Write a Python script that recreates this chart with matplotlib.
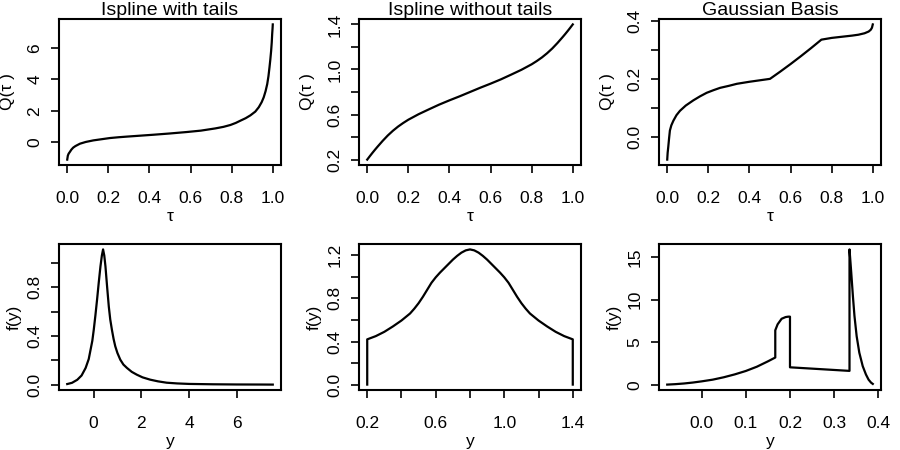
import matplotlib
matplotlib.use("Agg")
import matplotlib.pyplot as plt

plt.rcParams['font.family'] = ['Liberation Sans', 'DejaVu Sans']
plt.rcParams['font.size'] = 12.5

# quantile functions Q(tau)
tau_tails = [0.0, 0.003, 0.007, 0.013, 0.02, 0.029, 0.04, 0.062, 0.09, 0.127,
             0.17, 0.208, 0.25, 0.29, 0.355, 0.42, 0.5, 0.58, 0.65, 0.72,
             0.76, 0.794, 0.82, 0.842, 0.868, 0.891, 0.915, 0.932, 0.946, 0.956,
             0.965, 0.973, 0.979, 0.984, 0.988, 0.992, 0.995, 0.997, 0.999, 1.0]
q_tails = [-1.1, -0.85, -0.72, -0.61, -0.47, -0.34, -0.24, -0.09, 0.02, 0.12,
           0.2, 0.27, 0.32, 0.36, 0.42, 0.48, 0.56, 0.65, 0.74, 0.88,
           0.98, 1.1, 1.23, 1.37, 1.53, 1.71, 1.95, 2.23, 2.55, 2.86,
           3.25, 3.7, 4.2, 4.76, 5.25, 5.81, 6.35, 6.86, 7.25, 7.49]

tau_notails = [0.0, 0.0125, 0.025, 0.0375, 0.05, 0.075, 0.1, 0.125, 0.15, 0.175,
               0.2, 0.25, 0.3, 0.35, 0.4, 0.45, 0.5, 0.55, 0.6, 0.65,
               0.7, 0.75, 0.8, 0.825, 0.85, 0.875, 0.9, 0.925, 0.95, 0.9625,
               0.975, 0.9875, 1.0]
q_notails = [0.2, 0.23, 0.259, 0.287, 0.314, 0.366, 0.414, 0.456, 0.493, 0.525,
             0.554, 0.603, 0.646, 0.688, 0.726, 0.762, 0.8, 0.838, 0.874, 0.912,
             0.954, 0.997, 1.046, 1.075, 1.107, 1.144, 1.186, 1.234, 1.286, 1.313,
             1.341, 1.37, 1.4]

tau_gauss = [0.0, 0.002, 0.005, 0.009, 0.013, 0.02, 0.03, 0.045, 0.062, 0.09,
             0.127, 0.16, 0.192, 0.225, 0.257, 0.3, 0.339, 0.4, 0.45, 0.5,
             0.55, 0.6, 0.65, 0.7, 0.75, 0.8, 0.85, 0.9, 0.93, 0.96,
             0.98, 0.99, 0.996, 1.0]
q_gauss = [-0.078, -0.055, -0.035, -0.005, 0.022, 0.04, 0.056, 0.075, 0.09, 0.108,
           0.126, 0.14, 0.152, 0.161, 0.169, 0.176, 0.183, 0.19, 0.195, 0.2,
           0.225, 0.251, 0.278, 0.306, 0.335, 0.341, 0.345, 0.349, 0.352, 0.357,
           0.363, 0.369, 0.376, 0.3875]

# densities f(y)
y_tails = [-1.1, -0.9, -0.68, -0.5, -0.33, -0.2, -0.12, -0.05, 0.01, 0.08,
           0.15, 0.22, 0.29, 0.35, 0.4, 0.45, 0.5, 0.57, 0.64, 0.7,
           0.77, 0.84, 0.91, 1.0, 1.12, 1.25, 1.4, 1.6, 1.81, 2.05,
           2.37, 2.7, 3.06, 3.5, 4.0, 5.0, 6.0, 7.0, 7.5]
f_tails = [0.005, 0.015, 0.04, 0.075, 0.137, 0.21, 0.29, 0.36, 0.45, 0.57,
           0.7, 0.84, 0.97, 1.06, 1.11, 1.06, 0.97, 0.8, 0.64, 0.535,
           0.45, 0.375, 0.315, 0.26, 0.205, 0.165, 0.137, 0.105, 0.082, 0.06,
           0.041, 0.027, 0.016, 0.01, 0.006, 0.003, 0.0015, 0.001, 0.0005]

y_notails = [0.2, 0.2, 0.25, 0.3, 0.35, 0.4, 0.45, 0.475, 0.5, 0.525,
             0.55, 0.575, 0.6, 0.625, 0.65, 0.675, 0.7, 0.725, 0.75, 0.775,
             0.8, 0.825, 0.85, 0.875, 0.9, 0.925, 0.95, 0.975, 1.0, 1.025,
             1.05, 1.075, 1.1, 1.125, 1.15, 1.2, 1.25, 1.3, 1.35, 1.4, 1.4]
f_notails = [0.0, 0.42, 0.45, 0.49, 0.54, 0.595, 0.66, 0.705, 0.756, 0.815,
             0.88, 0.945, 0.996, 1.04, 1.08, 1.12, 1.16, 1.195, 1.225, 1.246,
             1.255, 1.246, 1.225, 1.195, 1.16, 1.12, 1.08, 1.04, 0.996, 0.945,
             0.88, 0.815, 0.756, 0.705, 0.66, 0.595, 0.54, 0.49, 0.45, 0.42, 0.0]

y_gauss = [-0.078, -0.06, -0.04, -0.02, 0.0, 0.025, 0.05, 0.075, 0.1, 0.125,
           0.15, 0.1667, 0.1667, 0.172, 0.181, 0.19, 0.196, 0.2, 0.2, 0.3348,
           0.3348, 0.3387, 0.3425, 0.346, 0.351, 0.357, 0.3647, 0.372, 0.378, 0.3836, 0.3875]
f_gauss = [0.02, 0.07, 0.15, 0.26, 0.4, 0.6, 0.88, 1.22, 1.62, 2.12,
           2.75, 3.2, 6.4, 7.1, 7.75, 7.95, 8.0, 8.0, 2.05, 1.63,
           15.9, 13.2, 10.4, 8.1, 5.7, 3.77, 2.19, 1.21, 0.6, 0.25, 0.1]

titles = ["Ispline with tails", "Ispline without tails", "Gaussian Basis"]

tau_ticks = [0.0, 0.2, 0.4, 0.6, 0.8, 1.0]
tau_labels = ["0.0", "0.2", "0.4", "0.6", "0.8", "1.0"]


def rlim(vals):
    # R style range: data range padded by 4% on each side
    lo, hi = min(vals), max(vals)
    d = 0.04 * (hi - lo)
    return lo - d, hi + d


def panel(ax, x, y, xticks, xlabels, yticks, ylabels, xlabel, ylabel, ylab_x, title=None):
    ax.plot(x, y, color="black", lw=1.6)
    ax.set_xlim(*rlim(x))
    ax.set_ylim(*rlim(y))
    ax.set_xticks(xticks)
    ax.set_xticklabels(xlabels)
    ax.set_yticks(yticks)
    ax.set_yticklabels(ylabels, rotation=90, va="center")
    ax.tick_params(axis="x", direction="out", length=6, width=1.2, pad=12.5)
    ax.tick_params(axis="y", direction="out", length=6, width=1.2, pad=6)
    for s in ax.spines.values():
        s.set_linewidth(1.5)
    ax.set_xlabel(xlabel)
    ax.set_ylabel(ylabel)
    ax.xaxis.set_label_coords(0.5, -0.30)
    ax.yaxis.set_label_coords(ylab_x, 0.5)
    if title:
        ax.set_title(title, pad=0.5, fontsize=14)


fig = plt.figure(figsize=(9, 4.5), dpi=100)
W, H = 900, 450
lefts = [59, 359, 659]
axw, axh = 222, 146
top_ax = [fig.add_axes([l / W, 1 - 165 / H, axw / W, axh / H]) for l in lefts]
bot_ax = [fig.add_axes([l / W, 1 - 390 / H, axw / W, axh / H]) for l in lefts]

panel(top_ax[0], tau_tails, q_tails, tau_ticks, tau_labels,
      [0, 2, 4, 6], ["0", "2", "4", "6"], "τ", "Q(τ )", -0.20, titles[0])
panel(top_ax[1], tau_notails, q_notails, tau_ticks, tau_labels,
      [0.2, 0.4, 0.6, 0.8, 1.0, 1.2, 1.4], ["0.2", "", "0.6", "", "1.0", "", "1.4"],
      "τ", "Q(τ )", -0.20, titles[1])
panel(top_ax[2], tau_gauss, q_gauss, tau_ticks, tau_labels,
      [0.0, 0.1, 0.2, 0.3, 0.4], ["0.0", "", "0.2", "", "0.4"], "τ", "Q(τ )", -0.20, titles[2])

panel(bot_ax[0], y_tails, f_tails, [0, 2, 4, 6], ["0", "2", "4", "6"],
      [0.0, 0.2, 0.4, 0.6, 0.8, 1.0], ["0.0", "", "0.4", "", "0.8", ""], "y", "f(y)", -0.17)
panel(bot_ax[1], y_notails, f_notails,
      [0.2, 0.4, 0.6, 0.8, 1.0, 1.2, 1.4], ["0.2", "", "0.6", "", "1.0", "", "1.4"],
      [0.0, 0.2, 0.4, 0.6, 0.8, 1.0, 1.2], ["0.0", "", "0.4", "", "0.8", "", "1.2"],
      "y", "f(y)", -0.17)
panel(bot_ax[2], y_gauss, f_gauss,
      [0.0, 0.1, 0.2, 0.3, 0.4], ["0.0", "0.1", "0.2", "0.3", "0.4"],
      [0, 5, 10, 15], ["0", "5", "10", "15"], "y", "f(y)", -0.17)

fig.savefig("out.png", dpi=100)
